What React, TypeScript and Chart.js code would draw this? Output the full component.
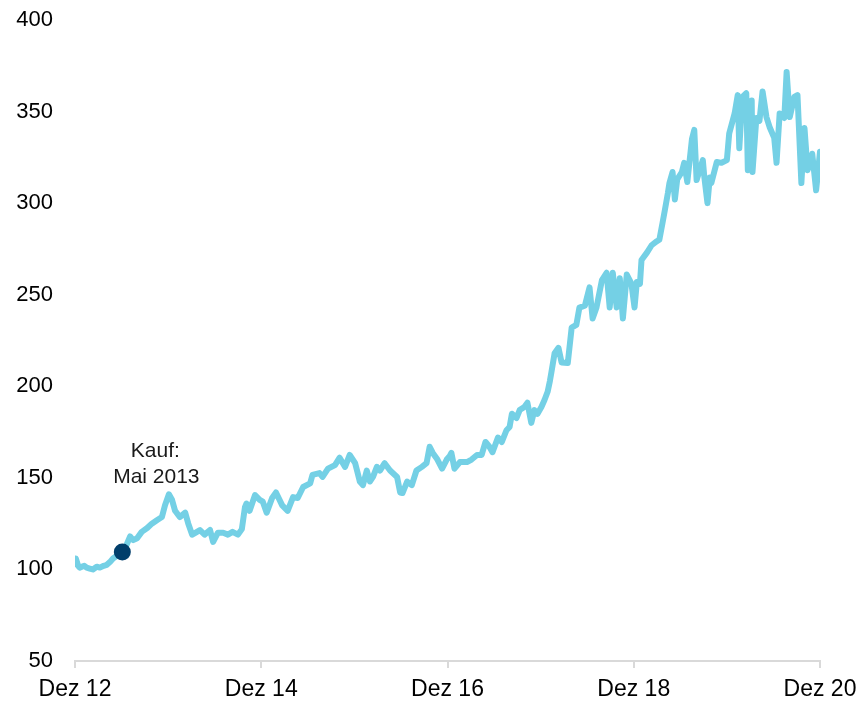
import React, { useEffect, useRef } from "react";
import { Chart, registerables } from "chart.js";

Chart.register(...registerables);

const xTickValues = [0, 24, 48, 72, 96];
const xTickLabels = ["Dez 12", "Dez 14", "Dez 16", "Dez 18", "Dez 20"];

// months after Dez 12
const months = [
  0.0, 0.1, 0.4, 0.6, 1.2, 1.5, 1.9, 2.3, 2.8, 3.2, 3.7, 4.1, 4.5, 4.9, 5.4, 6.1, 6.4, 6.8, 7.1, 7.5,
  8.0, 8.6, 9.3, 9.9, 10.6, 11.2, 11.6, 12.1, 12.5, 12.9, 13.5, 14.2, 14.6, 15.1, 15.5, 16.1, 16.7, 17.4, 17.8, 18.4,
  19.1, 19.7, 20.3, 21.0, 21.5, 21.9, 22.1, 22.5, 23.2, 23.8, 24.2, 24.7, 25.4, 25.9, 26.7, 27.4, 28.1, 28.7, 29.4, 30.3,
  30.6, 31.5, 31.9, 32.6, 33.5, 34.1, 34.8, 35.4, 36.1, 36.4, 36.7, 37.1, 37.6, 38.0, 38.4, 38.9, 39.3, 39.9, 40.6, 41.5,
  41.9, 42.2, 42.8, 43.4, 44.0, 44.7, 45.3, 45.7, 46.1, 46.7, 47.3, 47.9, 48.3, 48.5, 48.9, 49.6, 50.5, 51.1, 51.8, 52.4,
  52.9, 53.4, 53.8, 54.5, 55.0, 55.6, 56.0, 56.3, 56.9, 57.3, 57.9, 58.3, 58.8, 59.2, 59.6, 60.1, 60.5, 60.9, 61.2, 61.4,
  61.8, 62.3, 62.7, 63.5, 64.0, 64.6, 65.0, 65.7, 66.3, 66.7, 67.2, 67.9, 68.5, 68.9, 69.3, 69.8, 70.2, 70.6, 71.1, 71.7,
  72.1, 72.4, 72.8, 73.0, 73.7, 74.3, 74.9, 75.3, 75.7, 76.0, 76.4, 76.6, 77.0, 77.3, 77.6, 78.2, 78.5, 78.9, 79.5, 79.8,
  80.1, 80.9, 81.1, 81.5, 81.8, 82.0, 82.7, 83.3, 84.0, 84.3, 85.0, 85.4, 85.6, 86.0, 86.5, 86.7, 87.2, 87.3, 87.8, 88.2,
  88.6, 89.1, 89.5, 90.1, 90.4, 90.8, 91.4, 91.7, 92.1, 92.7, 93.1, 93.6, 94.0, 94.4, 95.0, 95.5, 96.0,
];

const values = [
  103, 106, 102, 101, 102, 101, 100.5, 100, 101.5, 101, 102, 102.5, 104, 106, 107.5, 109.5, 111, 115, 118, 116,
  117, 120.5, 122.6, 125, 127, 128.6, 135, 141, 138, 132, 128.6, 131, 125, 119, 120, 121.5, 119, 121.5, 115, 120,
  120, 119, 120.5, 119, 122, 134, 136, 132, 140.6, 138, 137, 131, 139, 142, 135, 132, 139.5, 139, 145, 147,
  151.6, 152.6, 150.5, 155, 157, 161, 156, 162.5, 158, 153, 148, 146, 154, 148, 150.5, 156, 154, 158, 154, 150.5,
  142, 141.7, 148, 146, 154, 156, 158, 167, 163.6, 160, 155, 160, 162, 163.6, 155, 158.6, 158.6, 160, 162.5, 162.5,
  169.6, 167, 164, 172, 169.6, 176, 177.8, 185, 182.7, 187, 188.7, 191, 180, 187, 185, 188.7, 192.5, 197, 203, 208,
  218, 221, 213, 212.7, 232, 233.5, 243, 244, 254, 237, 243, 258, 262, 243, 262, 243, 259, 237, 261, 256,
  243, 257, 256, 269, 273, 277, 279, 280, 289, 296, 305.5, 311, 317, 302, 313, 317, 322, 311.5, 335, 340,
  312.6, 323.5, 314, 300, 314, 311, 322.5, 322, 323.5, 338, 349, 359, 330, 358, 360, 318, 356, 317, 346.5, 345,
  361, 347, 341.6, 335.6, 322, 349, 346.5, 371.6, 347, 358, 359, 311, 341, 318, 327, 307, 328,
];

const purchaseMonth = [6.1];
const purchaseValue = [109.5];
const purchaseLabel = ["Kauf:", "Mai 2013"];

const FONT = "'Liberation Sans', Arial, Helvetica, sans-serif";

const labelPlugin = {
  id: "purchaseLabel",
  afterDatasetsDraw(chart: any) {
    const meta = chart.getDatasetMeta(0);
    const pt = meta.data[0];
    if (!pt) return;
    const ctx = chart.ctx;
    ctx.save();
    ctx.font = `21px ${FONT}`;
    ctx.fillStyle = "#1a1a1a";
    ctx.textAlign = "center";
    ctx.textBaseline = "middle";
    ctx.fillText(purchaseLabel[0], pt.x + 33, pt.y - 101);
    ctx.fillText(purchaseLabel[1], pt.x + 34, pt.y - 75);
    ctx.restore();
  },
};

export default function App() {
  const ref = useRef<HTMLCanvasElement | null>(null);

  useEffect(() => {
    if (!ref.current) return;
    const chart = new Chart(ref.current, {
      type: "line",
      data: {
        datasets: [
          {
            type: "scatter",
            data: purchaseMonth.map((m, i) => ({ x: m, y: purchaseValue[i] })),
            pointRadius: 8.5,
            pointHoverRadius: 8.5,
            backgroundColor: "#003e6b",
            borderWidth: 0,
          } as any,
          {
            data: months.map((m, i) => ({ x: m, y: values[i] })),
            borderColor: "#74d0e5",
            borderWidth: 6,
            pointRadius: 0,
            tension: 0,
            borderJoinStyle: "round",
            borderCapStyle: "round",
            fill: false,
          },
        ],
      },
      options: {
        animation: false,
        responsive: true,
        maintainAspectRatio: false,
        layout: { padding: { top: 20, right: 39, left: 0, bottom: 0 } },
        plugins: { legend: { display: false }, tooltip: { enabled: false } },
        scales: {
          x: {
            type: "linear",
            min: 0,
            max: 96,
            afterBuildTicks: (s: any) => {
              s.ticks = xTickValues.map((v) => ({ value: v }));
            },
            afterFit: (s: any) => {
              s.height = 40;
            },
            ticks: {
              autoSkip: false,
              maxRotation: 0,
              padding: 0,
              color: "#000",
              font: { family: FONT, size: 23, lineHeight: 1.9 },
              callback: (v: any) => xTickLabels[xTickValues.indexOf(Number(v))] ?? "",
            },
            grid: {
              drawOnChartArea: false,
              drawTicks: true,
              tickLength: 7,
              color: "#d9d9d9",
              lineWidth: 2,
            },
            border: { display: true, color: "#d9d9d9", width: 2 },
          },
          y: {
            min: 50,
            max: 400,
            afterFit: (s: any) => {
              s.width = 75;
            },
            ticks: {
              stepSize: 50,
              padding: 2,
              color: "#000",
              font: { family: FONT, size: 22 },
            },
            grid: { display: false, drawTicks: true, tickLength: 20 },
            border: { display: false },
          },
        },
      },
      plugins: [labelPlugin],
    });
    return () => chart.destroy();
  }, []);

  return (
    <div style={{ position: "fixed", left: 0, top: 0, width: 859, height: 701, background: "#fff" }}>
      <canvas ref={ref} />
    </div>
  );
}
